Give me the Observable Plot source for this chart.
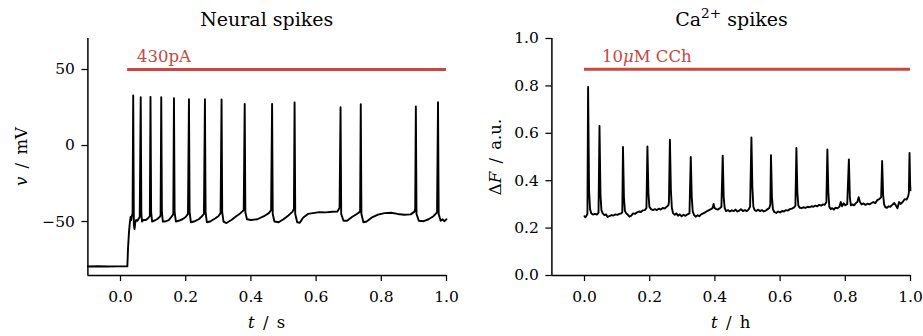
<!DOCTYPE html>
<html><head><meta charset="utf-8">
<script src="https://cdn.jsdelivr.net/npm/d3@7"></script>
<script src="https://cdn.jsdelivr.net/npm/@observablehq/plot@0.6"></script>
<style>
html,body{margin:0;padding:0;background:#fff;}
#wrap{display:flex;width:923px;height:336px;overflow:hidden;}
#wrap svg{display:block;overflow:visible;}
</style></head><body><div id="wrap"></div>
<script>
// ---- Neural spikes: membrane potential (mV) vs time (s)
const neuralT = [-0.1,-0.07,-0.04,-0.01,0.021,0.023,0.026,0.029,0.031,0.033,0.035,0.037,
 0.039,0.041,0.043,0.045,0.048,0.052,0.056,0.059,
 0.062,0.064,0.066,0.070,0.078,0.086,0.090,
 0.092,0.094,0.097,0.102,0.112,0.120,0.123,
 0.125,0.127,0.130,0.136,0.148,0.158,0.162,
 0.164,0.166,0.170,0.178,0.190,0.200,0.207,
 0.210,0.212,0.216,0.225,0.240,0.250,0.256,
 0.259,0.261,0.265,0.275,0.290,0.300,0.307,
 0.310,0.312,0.316,0.325,0.340,0.355,0.368,0.378,
 0.381,0.383,0.388,0.400,0.420,0.440,0.455,0.462,
 0.465,0.467,0.472,0.485,0.500,0.515,0.528,0.532,
 0.534,0.536,0.542,0.550,0.560,0.575,0.590,0.610,0.630,0.650,0.665,0.672,
 0.675,0.677,0.684,0.695,0.710,0.725,0.735,
 0.737,0.739,0.745,0.755,0.770,0.790,0.810,0.830,0.850,0.870,0.890,0.902,0.904,
 0.906,0.908,0.915,0.930,0.945,0.960,0.971,
 0.974,0.976,0.982,0.988,0.993,1.0];
const neuralV = [-79.6,-79.4,-79.6,-79.5,-79.5,-68,-57,-50,-47,-49,-46,-45,
 32.9,-52,-55,-51,-49,-49.5,-48,-47,
 31.8,-45,-50,-49,-49,-47.5,-46.5,
 32.0,-44,-50,-49.5,-48.5,-47,-46,
 31.8,-44,-50,-50,-49,-46.5,-45,
 31.1,-44,-50,-49.5,-48.5,-47,-45,
 30.5,-44,-50.5,-50,-48.5,-46.5,-45,
 30.5,-44,-50.5,-50,-48,-46.5,-44.5,
 30.3,-44,-50,-51,-49,-46.5,-44.5,-42.5,
 27.4,-44,-48.5,-49,-48.5,-46.5,-44.5,-42.5,
 27.4,-45,-50,-50.5,-48.5,-46,-43.5,-41.5,
 28.3,-45,-50.5,-50.8,-47.5,-45,-44.5,-43.8,-44,-43.6,-43.5,-41,
 25.2,-45,-49.5,-49.5,-47,-45,-43.5,
 27.2,-45,-50.5,-50,-47.5,-45.5,-44.5,-44.2,-45,-45.5,-45.3,-43.5,-41.5,
 25.7,-45,-49.5,-49.8,-48.5,-46.5,-44,
 28.5,-45,-49.5,-48.5,-49.8,-48.5];
const stimNeural = {start: 0.022, end: 1.0, level: 50, text: "430pA"};
const neuralXTicks = [0, 0.2, 0.4, 0.6, 0.8, 1.0];
const neuralYTicks = [-50, 0, 50];

// ---- Ca2+ spikes: ΔF (a.u.) vs time (h)
const caT = [0.0,0.003,0.006,0.009,
 0.011,0.014,0.017,0.021,0.026,0.032,0.038,0.043,
 0.046,0.049,0.052,0.056,0.061,0.066,0.071,0.077,0.083,0.089,0.095,0.101,0.107,0.113,0.116,
 0.118,0.121,0.124,0.128,0.133,0.138,0.143,0.149,0.155,0.161,0.167,0.173,0.179,0.185,0.190,
 0.193,0.196,0.199,0.204,0.210,0.216,0.222,0.228,0.234,0.240,0.246,0.252,0.257,0.259,
 0.262,0.265,0.268,0.272,0.277,0.282,0.287,0.292,0.298,0.304,0.310,0.316,0.322,
 0.326,0.329,0.332,0.336,0.341,0.347,0.352,0.358,0.364,0.370,0.376,0.382,0.388,0.393,0.396,0.399,0.404,0.409,0.415,0.420,
 0.424,0.427,0.430,0.434,0.440,0.446,0.452,0.458,0.463,0.469,0.475,0.480,0.486,0.492,0.498,0.503,0.508,
 0.512,0.515,0.518,0.522,0.527,0.533,0.538,0.544,0.550,0.556,0.562,0.567,0.570,
 0.572,0.575,0.578,0.582,0.588,0.594,0.600,0.606,0.612,0.618,0.624,0.630,0.636,0.642,0.647,
 0.650,0.653,0.656,0.660,0.666,0.672,0.678,0.684,0.690,0.696,0.702,0.708,0.714,0.720,0.726,0.732,0.737,0.742,
 0.745,0.748,0.751,0.755,0.760,0.765,0.770,0.776,0.782,0.786,0.790,0.795,0.800,0.806,
 0.811,0.814,0.817,0.822,0.827,0.832,0.837,0.841,0.845,0.850,0.856,0.862,0.868,0.874,0.880,0.886,0.892,0.898,0.904,0.910,
 0.913,0.916,0.919,0.923,0.928,0.933,0.938,0.944,0.950,0.955,0.960,0.965,0.970,0.976,0.982,0.988,0.993,0.995,
 0.997,0.999,1.0];
const caF = [0.250,0.246,0.252,0.260,
 0.796,0.360,0.280,0.262,0.257,0.260,0.257,0.265,
 0.631,0.340,0.275,0.262,0.255,0.258,0.247,0.251,0.255,0.253,0.258,0.256,0.260,0.262,0.268,
 0.542,0.330,0.272,0.262,0.256,0.248,0.252,0.262,0.260,0.266,0.270,0.268,0.275,0.276,0.285,
 0.545,0.350,0.290,0.280,0.276,0.280,0.276,0.282,0.278,0.285,0.283,0.290,0.295,0.310,
 0.573,0.360,0.285,0.262,0.256,0.262,0.252,0.258,0.250,0.256,0.252,0.258,0.262,
 0.500,0.330,0.270,0.256,0.248,0.254,0.250,0.258,0.262,0.266,0.272,0.276,0.280,0.285,0.302,0.285,0.280,0.278,0.284,0.290,
 0.506,0.330,0.285,0.272,0.276,0.270,0.275,0.272,0.278,0.270,0.274,0.280,0.272,0.276,0.272,0.278,0.290,
 0.582,0.370,0.290,0.276,0.272,0.278,0.272,0.276,0.270,0.274,0.280,0.285,0.300,
 0.508,0.330,0.280,0.268,0.264,0.270,0.266,0.272,0.270,0.276,0.274,0.280,0.282,0.286,0.295,
 0.538,0.350,0.295,0.286,0.284,0.288,0.285,0.290,0.288,0.292,0.290,0.295,0.292,0.298,0.295,0.300,0.298,0.310,
 0.532,0.350,0.290,0.280,0.284,0.278,0.286,0.284,0.290,0.310,0.292,0.305,0.296,0.302,
 0.490,0.330,0.296,0.300,0.296,0.305,0.310,0.330,0.310,0.300,0.304,0.298,0.303,0.300,0.305,0.310,0.305,0.318,0.322,0.330,
 0.483,0.340,0.300,0.288,0.286,0.292,0.290,0.298,0.306,0.296,0.284,0.310,0.302,0.310,0.322,0.320,0.335,0.350,
 0.517,0.380,0.360];
const stimCa = {start: 0.0, end: 1.0, level: 0.87, text: "10μM CCh"};
const caXTicks = [0, 0.2, 0.4, 0.6, 0.8, 1.0];
const caYTicks = [0, 0.2, 0.4, 0.6, 0.8, 1.0];

const RED = "#c9473c";
const FONT = "DejaVu Serif";
const TICK_SIZE = 15.5;
const SEP = "\u2002/\u2002";

const neuralData = neuralT.map((t, i) => ({t, v: neuralV[i]}));
const caData = caT.map((t, i) => ({t, v: caF[i]}));

function addText(svg, x, y, parts, {size = 15, anchor = "middle", rotate = 0, fill = "black"} = {}) {
  const g = d3.select(svg).append("text")
    .attr("transform", `translate(${x},${y})` + (rotate ? ` rotate(${rotate})` : ""))
    .attr("text-anchor", anchor)
    .style("font-family", FONT)
    .style("font-size", size + "px")
    .attr("fill", fill);
  for (const p of parts) {
    const ts = g.append("tspan").text(p.t);
    if (p.italic) ts.style("font-style", "italic");
    if (p.sup) ts.style("font-size", (size * 0.72) + "px").attr("dy", -size * 0.42);
    if (p.down) ts.attr("dy", size * 0.42);
  }
}

function makePlot({data, width, ml, mr, yDomain, xTicks, yTicks, yFmt, stim}) {
  return Plot.plot({
    width, height: 336,
    marginLeft: ml, marginRight: mr, marginTop: 38, marginBottom: 61,
    style: {fontFamily: FONT, fontSize: TICK_SIZE + "px", color: "black", background: "white", overflow: "visible"},
    x: {domain: [-0.1, 1.0]},
    y: {domain: yDomain},
    marks: [
      Plot.axisX(xTicks, {tickSize: 6, tickPadding: 9, tickFormat: d => d.toFixed(1), label: null, strokeWidth: 1.25}),
      Plot.axisY(yTicks, {tickSize: 6, tickPadding: 7, tickFormat: yFmt, label: null, strokeWidth: 1.25}),
      Plot.ruleX([-0.1], {strokeWidth: 1.5}),
      Plot.ruleY([yDomain[0]], {strokeWidth: 1.5}),
      Plot.ruleY([stim.level], {x1: stim.start, x2: stim.end, stroke: RED, strokeWidth: 3}),
      Plot.line(data, {x: "t", y: "v", stroke: "black", strokeWidth: 1.9, strokeLinejoin: "round"})
    ]
  });
}

const wrap = document.getElementById("wrap");

// Left panel
const left = makePlot({data: neuralData, width: 461, ml: 87.4, mr: 15, yDomain: [-85.5, 70.4],
  xTicks: neuralXTicks, yTicks: neuralYTicks, yFmt: d => d < 0 ? "\u2212" + Math.abs(d) : String(d), stim: stimNeural});
wrap.appendChild(left);
{
  const sx = left.scale("x"), sy = left.scale("y");
  addText(left, 266.7, 26, [{t: "Neural spikes"}], {size: 19});
  addText(left, 266.7, 328, [{t: "t", italic: true}, {t: SEP + "s"}], {size: 16.5});
  addText(left, 27, 156.5, [{t: "v", italic: true}, {t: SEP + "mV"}], {size: 16.5, rotate: -90});
  addText(left, sx.apply(0.052), sy.apply(54.6), [{t: stimNeural.text}], {size: 16.5, anchor: "start", fill: RED});
}

// Right panel
const right = makePlot({data: caData, width: 462, ml: 90.4, mr: 13, yDomain: [0, 1],
  xTicks: caXTicks, yTicks: caYTicks, yFmt: d => d.toFixed(1), stim: stimCa});
wrap.appendChild(right);
{
  const sx = right.scale("x"), sy = right.scale("y");
  addText(right, 270.5, 26, [{t: "Ca"}, {t: "2+", sup: true}, {t: " spikes", down: true}], {size: 19});
  addText(right, 269.7, 328, [{t: "t", italic: true}, {t: SEP + "h"}], {size: 16.5});
  addText(right, 40, 157, [{t: "\u0394"}, {t: "F", italic: true}, {t: SEP + "a.u."}], {size: 16.5, rotate: -90});
  addText(right, sx.apply(0.055), sy.apply(0.899), [{t: "10"}, {t: "\u03bc", italic: true}, {t: "M CCh"}], {size: 16.5, anchor: "start", fill: RED});
}
</script>
</body></html>
